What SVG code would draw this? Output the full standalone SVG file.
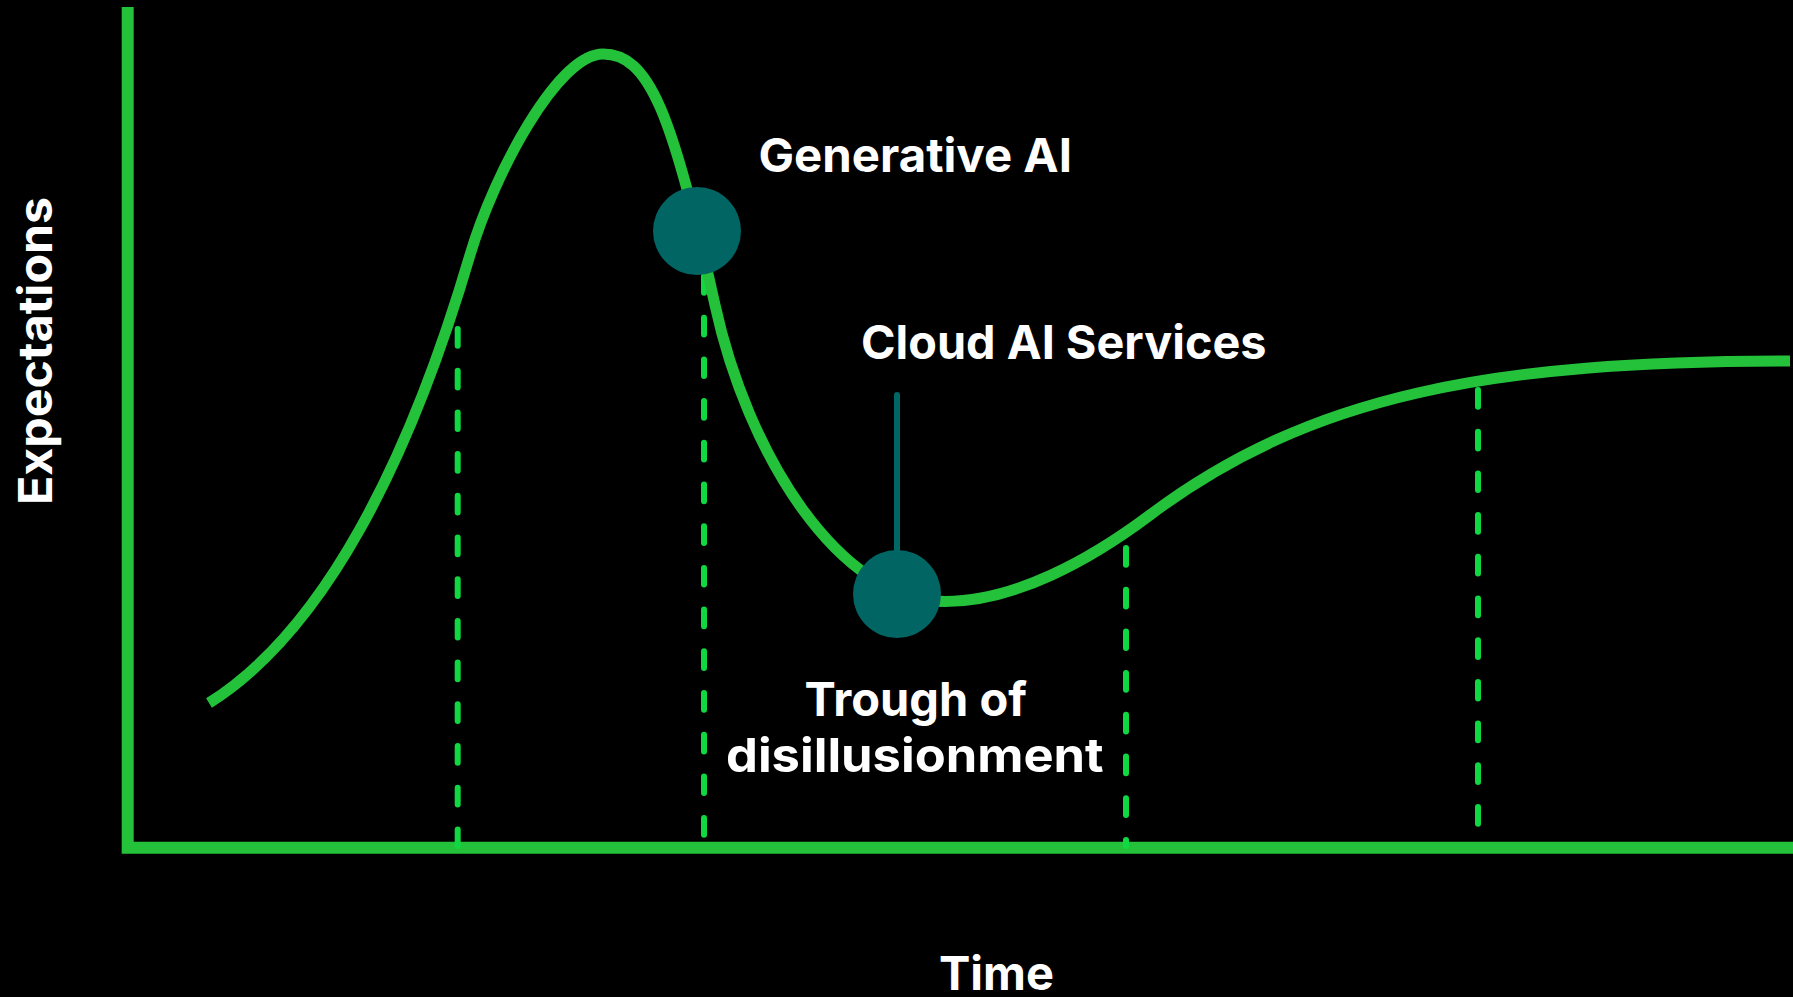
<svg xmlns="http://www.w3.org/2000/svg" width="1793" height="997" viewBox="0 0 1793 997">
<style>
.lbl{font-family:Inter,"Liberation Sans",Arial,sans-serif;font-weight:700;font-size:47px;fill:#ffffff}
.axis{fill:none;stroke:#24C13A;stroke-width:12;stroke-linejoin:miter;stroke-linecap:butt}
.curve{fill:none;stroke:#24C13A;stroke-width:11;stroke-linecap:butt;stroke-linejoin:round}
.dash{fill:none;stroke:#10D840;stroke-width:6;stroke-linecap:round;stroke-dasharray:16.7 25}
.dot{fill:#006563}
.stem{stroke:#006666;stroke-width:6;stroke-linecap:round}
</style>
<rect x="0" y="0" width="1793" height="997" fill="#000000"/>
<g id="axes">
<path class="axis" d="M127.7,7 V847.7 H1793"/>
</g>
<g id="connectors">
<path class="dash" d="M457.7,329 V846"/>
<path class="dash" d="M704,276 V846"/>
<path class="dash" d="M1126,548 V846"/>
<path class="dash" d="M1478,390 V846"/>
<path class="curve" d="M209,703 C325,630 410,459 470,255 C494,173.4 558,54 603,54 C648,54 672,110 715,305 C747,452 838,601.5 945,601.5 C1015,601.5 1090,560 1150,515 C1310,395 1490,361 1790,361"/>
<line class="stem" x1="897" y1="395" x2="897" y2="560"/>
</g>
<g id="node-generative-ai">
<circle class="dot" cx="697" cy="231" r="44"/>
<text class="lbl" x="758.5" y="171.7" textLength="313.5" lengthAdjust="spacingAndGlyphs">Generative AI</text>
</g>
<g id="node-cloud-ai">
<circle class="dot" cx="897" cy="594" r="44"/>
<text class="lbl" x="861" y="359" textLength="405.5" lengthAdjust="spacingAndGlyphs">Cloud AI Services</text>
</g>
<g id="label-trough">
<text class="lbl" x="804.5" y="716" textLength="222.5" lengthAdjust="spacingAndGlyphs">Trough of</text>
<text class="lbl" x="726" y="771.7" textLength="377.6" lengthAdjust="spacingAndGlyphs">disillusionment</text>
</g>
<g id="label-time">
<text class="lbl" x="939" y="990" textLength="115" lengthAdjust="spacingAndGlyphs">Time</text>
</g>
<g id="label-expectations">
<text class="lbl" transform="translate(52,505) rotate(-90)" textLength="308" lengthAdjust="spacingAndGlyphs">Expectations</text>
</g>
</svg>
